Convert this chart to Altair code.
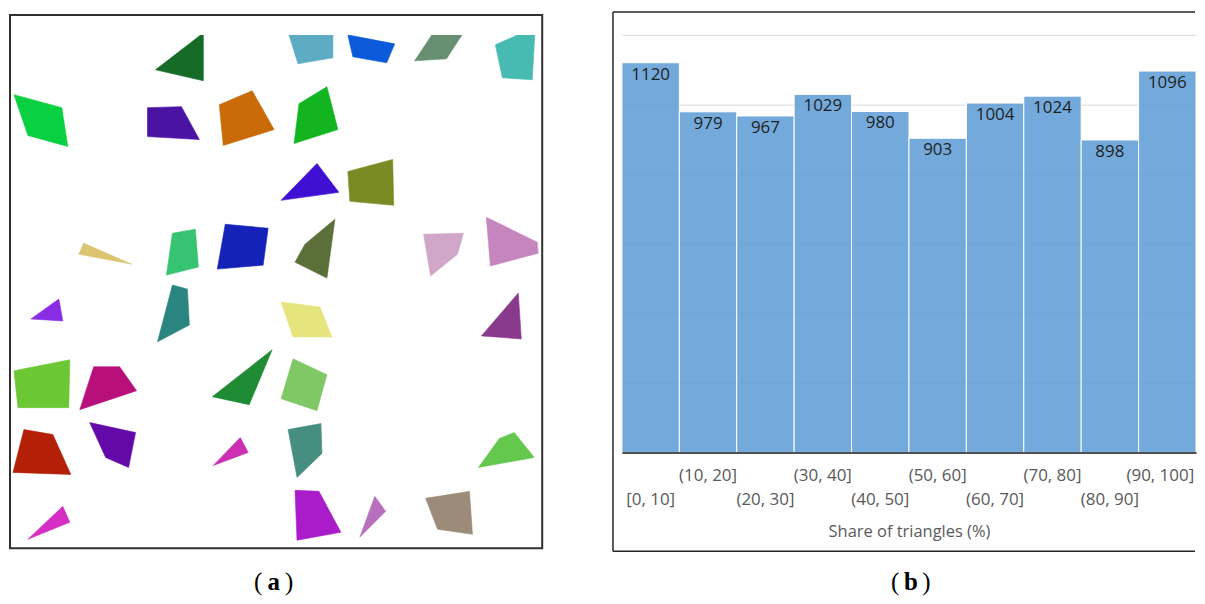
import altair as alt
import pandas as pd

# ---------------- panel (b) data ----------------
bin_labels = ["[0, 10]", "(10, 20]", "(20, 30]", "(30, 40]", "(40, 50]",
              "(50, 60]", "(60, 70]", "(70, 80]", "(80, 90]", "(90, 100]"]
bin_index = list(range(10))
counts = [1120, 979, 967, 1029, 980, 903, 1004, 1024, 898, 1096]
grid_values = [0, 200, 400, 600, 800, 1000, 1200]

# ---------------- panel (a) data (shape vertices, image pixels) ----------------
shape_colors = [
    "#166B26", "#08D040", "#4B13A3", "#C86B08", "#DCC470", "#36C372", "#1422B8",
    "#5DACC4", "#0B5AD9", "#678F72", "#47BBB2", "#12B520", "#3F10D2", "#7B8B24",
    "#5B7038", "#D0A6C9", "#C585BF", "#8A2BE6", "#2A8581", "#6CC734", "#B80F7B",
    "#1F8B34", "#B32007", "#6309A8", "#CB2FB2", "#D62EC3", "#E5E47D", "#893A8C",
    "#7FC865", "#468E80", "#64C84E", "#AA1BCA", "#B870BE", "#9D8B79",
]
shape_vertices = [
    [(155, 68), (203, 31), (203, 79)],
    [(13, 93), (61, 106), (67, 145), (27, 134)],
    [(147, 106), (181, 105), (199, 138), (147, 135)],
    [(219, 103), (252, 89), (274, 128), (223, 144)],
    [(78, 253), (83, 242), (131, 263)],
    [(172, 232), (195, 228), (198, 266), (166, 274)],
    [(225, 223), (268, 227), (263, 264), (217, 268)],
    [(287, 27), (333, 24), (333, 56), (298, 62)],
    [(348, 33), (395, 42), (387, 61), (353, 55)],
    [(415, 59), (433, 32), (467, 26), (447, 57)],
    [(496, 43), (536, 25), (533, 78), (503, 76)],
    [(299, 102), (327, 85), (338, 128), (294, 142)],
    [(281, 199), (317, 162), (339, 191)],
    [(348, 170), (393, 158), (394, 204), (350, 200)],
    [(305, 243), (335, 218), (327, 277), (295, 261)],
    [(424, 233), (464, 232), (458, 253), (431, 275)],
    [(487, 216), (538, 241), (539, 252), (491, 265)],
    [(30, 318), (58, 298), (62, 320)],
    [(172, 284), (187, 288), (189, 324), (157, 341)],
    [(13, 370), (69, 359), (68, 407), (17, 407)],
    [(93, 366), (119, 366), (136, 390), (79, 409)],
    [(212, 396), (272, 349), (249, 404)],
    [(23, 429), (52, 434), (70, 474), (12, 472)],
    [(89, 422), (135, 432), (128, 467), (105, 457)],
    [(213, 465), (240, 437), (248, 452)],
    [(27, 539), (62, 506), (69, 522)],
    [(281, 301), (320, 306), (332, 336), (293, 336)],
    [(482, 335), (519, 292), (522, 338)],
    [(293, 358), (327, 374), (317, 410), (281, 398)],
    [(288, 429), (321, 423), (322, 453), (297, 477)],
    [(479, 467), (500, 438), (515, 432), (535, 457)],
    [(295, 490), (319, 491), (341, 532), (297, 540)],
    [(360, 537), (375, 496), (386, 511)],
    [(426, 498), (470, 491), (473, 534), (438, 529)],
]

features = []
for col, pts in zip(shape_colors, shape_vertices):
    ring = [[float(px), float(py)] for px, py in pts]
    ring.append(list(ring[0]))
    features.append({
        "type": "Feature",
        "properties": {"color": col},
        "geometry": {"type": "Polygon", "coordinates": [ring]},
    })

one = pd.DataFrame({"k": [0]})


def letter_label(xs, y, letter):
    parts = []
    for ch, xv, wt in zip(["(", letter, ")"], xs, ["normal", "bold", "normal"]):
        parts.append(
            alt.Chart(one).mark_text(
                text=ch, font="Liberation Serif", fontSize=25, fontWeight=wt,
                color="black", align="center", baseline="middle",
            ).encode(x=alt.value(xv), y=alt.value(y))
        )
    return parts


# ---------------- panel (a) ----------------
# view origin of both panels sits at image pixel (x0, 33)
shapes = alt.Chart(alt.Data(values=features)).mark_geoshape(strokeWidth=0.6).encode(
    fill=alt.Fill("properties.color:N", scale=None),
    stroke=alt.Stroke("properties.color:N", scale=None),
).project(type="identity", scale=1, translate=[-9, -33])

box_a = alt.Chart(one).mark_rect(
    fill="transparent", stroke="#303030", strokeWidth=2
).encode(x=alt.value(0), x2=alt.value(534), y=alt.value(-20), y2=alt.value(515))

panel_a = alt.layer(
    shapes, box_a, *letter_label([249, 264.5, 280], 549, "a")
).properties(width=534, height=515)

# ---------------- panel (b) ----------------
df_b = pd.DataFrame({"bin": bin_index, "count": counts})
label_list = "[" + ",".join("'" + s + "'" for s in bin_labels) + "]"

x_enc = alt.X(
    "bin:O",
    scale=alt.Scale(paddingInner=0, paddingOuter=0),
    axis=alt.Axis(
        labelExpr=label_list + "[datum.value]",
        labelAngle=0,
        labelOverlap=False,
        labelFont="Open Sans",
        labelFontSize=17,
        labelColor="#595959",
        labelPadding={"condition": {"test": "datum.value % 2 === 0", "value": 39}, "value": 15},
        labelOffset={"condition": {"test": "datum.value === 9", "value": -7}, "value": 0},
        ticks=False,
        tickSize=0,
        domainColor="#505050",
        domainWidth=2,
        title="Share of triangles (%)",
        titleFont="Open Sans",
        titleFontSize=16.5,
        titleFontWeight="normal",
        titleColor="#595959",
        titlePadding=16,
        zindex=1,
    ),
)
y_enc = alt.Y(
    "count:Q",
    scale=alt.Scale(domain=[0, 1200], nice=False),
    axis=alt.Axis(
        values=grid_values, grid=True, gridColor="#D9D9D9", gridWidth=1,
        labels=False, ticks=False, domain=False, title=None, minExtent=0,
    ),
)

base_b = alt.Chart(df_b).encode(x=x_enc, y=y_enc)
bars = base_b.mark_bar(fill="#5B9BD5", fillOpacity=0.85, stroke="white", strokeWidth=1)
values_txt = base_b.mark_text(
    baseline="middle", dy=12, font="Open Sans", fontSize=17, color="#1F1F1F"
).encode(text="count:Q")

rule_style = dict(color="#262626", strokeWidth=1.5)
box_left = alt.Chart(one).mark_rule(**rule_style).encode(
    x=alt.value(-9), y=alt.value(-23), y2=alt.value(518))
box_top = alt.Chart(one).mark_rule(**rule_style).encode(
    x=alt.value(-9), x2=alt.value(575), y=alt.value(-23))
box_bottom = alt.Chart(one).mark_rule(**rule_style).encode(
    x=alt.value(-9), x2=alt.value(575), y=alt.value(518))

panel_b = alt.layer(
    bars, values_txt, box_left, box_top, box_bottom,
    *letter_label([274, 290, 305.5], 549, "b")
).properties(width=576, height=419)

chart = alt.hconcat(panel_a, panel_b, spacing=67).configure_view(
    stroke="transparent"
).properties(
    padding={"left": 0, "top": 1, "right": 0, "bottom": 0},
    background="white",
)

chart.save("out.html", embed_options={"renderer": "svg", "actions": False})
